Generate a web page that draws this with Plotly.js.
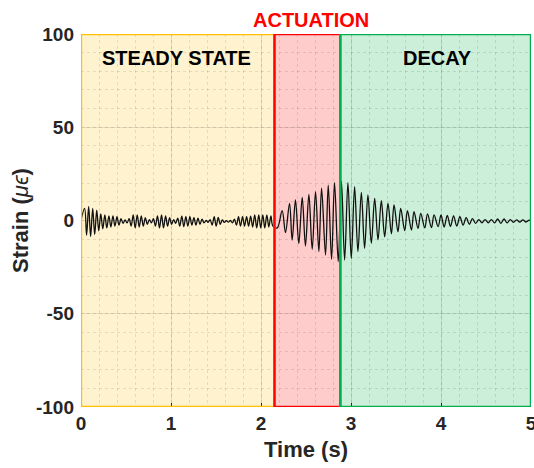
<!DOCTYPE html>
<html>
<head>
<meta charset="utf-8">
<script src="https://cdn.plot.ly/plotly-3.0.1.min.js"></script>
<style>html,body{margin:0;padding:0;background:#fff;}#chart{width:534px;height:468px;}</style>
</head>
<body>
<div id="chart"></div>
<script>
// Extrema of the strain signal (time in s, strain in microstrain)
const timeS = [
  0.000, 0.040, 0.062, 0.085, 0.107, 0.130, 0.152, 0.175, 0.197, 0.220, 0.242,
  0.265, 0.287, 0.310, 0.332, 0.355, 0.377, 0.400, 0.422, 0.445, 0.467,
  0.490, 0.512, 0.535, 0.557, 0.580, 0.602, 0.625, 0.647, 0.670, 0.692,
  0.715, 0.737, 0.760, 0.782, 0.805, 0.827, 0.850, 0.872, 0.895, 0.917,
  0.940, 0.962, 0.985, 1.007, 1.030, 1.052, 1.075, 1.097, 1.120, 1.142,
  1.165, 1.187, 1.210, 1.232, 1.255, 1.277, 1.300, 1.322, 1.345, 1.367,
  1.390, 1.412, 1.435, 1.457, 1.480, 1.502, 1.525, 1.547, 1.570, 1.592,
  1.615, 1.637, 1.660, 1.682, 1.705, 1.727, 1.750, 1.772, 1.795, 1.817,
  1.840, 1.862, 1.885, 1.907, 1.930, 1.952, 1.975, 1.997, 2.020, 2.042,
  2.065, 2.087, 2.110, 2.132,
  2.180, 2.235, 2.272, 2.317, 2.346, 2.383, 2.420, 2.458, 2.494, 2.532,
  2.569, 2.606, 2.643, 2.673, 2.717, 2.747, 2.784, 2.817, 2.858, 2.894,
  2.929, 2.966, 3.003, 3.040, 3.077, 3.115, 3.151, 3.188, 3.226, 3.263,
  3.300, 3.337, 3.374, 3.411, 3.449, 3.478, 3.522, 3.552, 3.597, 3.627,
  3.672, 3.700, 3.745, 3.775, 3.820, 3.850, 3.894, 3.923, 3.968,
  4.000, 4.035, 4.070, 4.105, 4.140, 4.175, 4.210, 4.245, 4.280, 4.315,
  4.350, 4.385, 4.420, 4.455, 4.490, 4.525, 4.560, 4.595, 4.630, 4.665,
  4.700, 4.735, 4.770, 4.805, 4.840, 4.875, 4.910, 4.945, 4.980, 5.000
];
const strain = [
  0.0, 6.5, -8.0, 7.5, -8.5, 6.5, -7.5, 5.5, -5.5, 3.5, -4.5,
  3.0, -4.0, 2.5, -3.5, 2.5, -3.0, 2.0, -2.5, 1.0, -1.5,
  0.3, -1.3, 1.0, -3.0, 3.0, -4.0, 3.0, -3.5, 2.5, -3.0,
  1.5, -2.0, 0.5, -1.3, 1.0, -3.0, 2.5, -4.0, 3.0, -4.0,
  2.5, -3.0, 1.5, -2.0, 0.5, -1.5, 1.3, -3.0, 2.3, -3.3,
  2.0, -3.0, 2.0, -2.5, 1.5, -2.5, 1.3, -2.0, 0.7, -1.3,
  0.0, -1.0, 0.5, -2.5, 2.0, -3.0, 1.7, -2.0, 0.3, -1.0,
  -0.1, -0.9, 0.0, -1.3, 0.7, -2.5, 2.0, -3.0, 2.0, -3.0,
  2.0, -3.0, 2.3, -3.5, 3.0, -4.0, 3.0, -4.0, 3.0, -4.0,
  3.0, -3.5, 2.5, -3.0,
  -4.0, 5.3, -6.5, 9.2, -10.5, 11.0, -12.3, 12.4, -13.7, 14.0,
  -15.5, 15.5, -16.7, 17.3, -18.5, 19.0, -20.8, 20.3, -22.0, 21.0,
  -21.2, 20.3, -20.3, 18.1, -16.7, 15.1, -14.9, 13.7, -12.2, 11.9,
  -10.4, 10.6, -8.7, 9.2, -7.2, 8.3, -6.0, 6.5, -5.4, 5.3,
  -5.1, 4.7, -4.2, 3.8, -4.0, 3.5, -3.8, 3.0, -3.3,
  3.0, -3.5, 2.8, -3.2, 2.5, -3.0, 2.0, -2.5, 1.5, -2.0,
  1.0, -1.5, 0.5, -1.2, 0.5, -1.2, 0.5, -1.3, 0.8, -1.5,
  0.8, -1.3, 0.5, -1.0, 0.3, -0.8, 0.3, -0.8, 0.2, -0.3
];
// Phase boundaries (s) and labels
const phaseStart = [0, 2.15, 2.88];
const phaseEnd = [2.15, 2.88, 5];
const phaseLabels = ['STEADY STATE', 'ACTUATION', 'DECAY'];
const phaseFill = ['rgba(255,224,130,0.38)', 'rgba(255,120,120,0.38)', 'rgba(110,210,150,0.36)'];
const phaseEdge = ['#FFC000', '#FF0000', '#00B050'];
const xTicks = [0, 1, 2, 3, 4, 5];
const yTicks = [-100, -50, 0, 50, 100];

const shapes = [];
for (let i = 0; i < 3; i++) {
  shapes.push({type: 'rect', xref: 'x', yref: 'y', x0: phaseStart[i], x1: phaseEnd[i], y0: -100, y1: 100,
    fillcolor: phaseFill[i], line: {width: 0}, layer: 'below'});
}
for (let i = 0; i < 3; i++) {
  shapes.push({type: 'rect', xref: 'x', yref: 'y', x0: phaseStart[i], x1: phaseEnd[i], y0: -100, y1: 100,
    fillcolor: 'rgba(0,0,0,0)', line: {width: 2.4, color: phaseEdge[i]}, layer: 'above'});
}

const fam = 'Liberation Sans, Arial, sans-serif';
const boldFont = {family: fam, size: 20, color: '#000000', weight: 'bold'};
const annotations = [
  {x: 1.063, y: 87.3, xref: 'x', yref: 'y', text: phaseLabels[0], showarrow: false, font: boldFont},
  {x: 2.55, y: 1, xref: 'x', yref: 'paper', yanchor: 'bottom', yshift: 1, text: phaseLabels[1], showarrow: false,
    font: Object.assign({}, boldFont, {color: '#FF0000'})},
  {x: 3.96, y: 87.3, xref: 'x', yref: 'y', text: phaseLabels[2], showarrow: false, font: boldFont}
];

const tickFont = {family: fam, size: 19, color: '#262626', weight: 'bold'};
const layout = {
  width: 534, height: 468,
  margin: {l: 81, r: 3, t: 34, b: 61},
  paper_bgcolor: '#ffffff', plot_bgcolor: '#ffffff',
  showlegend: false,
  shapes: shapes,
  annotations: annotations,
  xaxis: {
    range: [0, 5], tickvals: xTicks, ticktext: xTicks.map(String),
    showgrid: true, gridcolor: 'rgba(0,0,0,0.10)', gridwidth: 1,
    minor: {dtick: 0.2, showgrid: true, gridcolor: 'rgba(0,0,0,0.10)', griddash: 'dot', gridwidth: 1},
    zeroline: false, showline: false,
    ticks: 'inside', ticklen: 4, tickcolor: '#262626', tickwidth: 1,
    ticklabelstandoff: 3, ticklabeloverflow: 'allow',
    tickfont: tickFont,
    title: {text: 'Time (s)', font: {family: fam, size: 22, color: '#262626', weight: 'bold'}, standoff: 8}
  },
  yaxis: {
    range: [-100, 100], tickvals: yTicks, ticktext: yTicks.map(String),
    showgrid: true, gridcolor: 'rgba(0,0,0,0.10)', gridwidth: 1,
    minor: {dtick: 10, showgrid: true, gridcolor: 'rgba(0,0,0,0.10)', griddash: 'dot', gridwidth: 1},
    zeroline: false, showline: false,
    ticks: '', tickfont: tickFont, ticklabelstandoff: 6, ticklabeloverflow: 'allow',
    title: {text: 'Strain (<span style="font-weight:normal"><i>μϵ</i></span>)', font: {family: fam, size: 22, color: '#262626', weight: 'bold'}, standoff: 1}
  }
};

const trace = {
  x: timeS, y: strain, type: 'scatter', mode: 'lines',
  line: {color: '#111111', width: 1.3, shape: 'spline', smoothing: 1},
  hoverinfo: 'skip'
};

Plotly.newPlot('chart', [trace], layout, {displayModeBar: false, staticPlot: true});
</script>
</body>
</html>
